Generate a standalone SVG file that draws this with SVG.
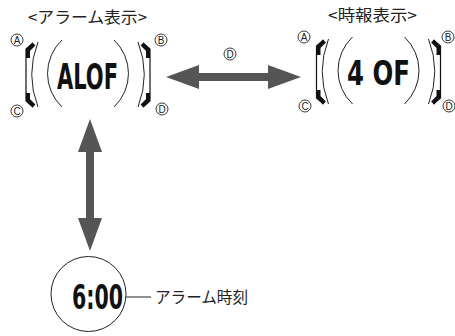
<svg xmlns="http://www.w3.org/2000/svg" width="455" height="336" viewBox="0 0 455 336">
<style>
.jp{font-family:"Noto Sans CJK JP","Noto Sans",sans-serif;fill:#222;}
.lbl{font-family:"Liberation Sans","Noto Sans",sans-serif;font-size:10px;fill:#222;text-anchor:middle;dominant-baseline:central;}
.ring{fill:#fff;stroke:#222;stroke-width:0.9;}
.lcd{font-family:"DejaVu Sans Condensed","Liberation Sans Narrow",sans-serif;font-weight:bold;fill:#111;}
.thin{fill:none;stroke:#111;stroke-width:1.2;}
.thick{fill:none;stroke:#111;stroke-width:4;stroke-linejoin:round;}
.arc{fill:none;stroke:#222;stroke-width:1;}
.arr{fill:#555;}
</style>
<defs>
<circle id="ring" class="ring" r="6"/>
<g id="case">
<path class="thin" d="M-55,-32 L-62,-26 L-62,26 L-55,32"/>
<path class="thick" d="M-54,-31 L-60,-25 L-60,-17"/>
<path class="thick" d="M-60,18 L-60,25 L-54,31"/>
<path class="arc" d="M-50,-33 A90,90 0 0 0 -50,32"/>
<path class="arc" d="M-26,-35 A46,46 0 0 0 -26,32"/>
<g transform="scale(-1,1)">
<path class="thin" d="M-55,-32 L-62,-26 L-62,26 L-55,32"/>
<path class="thick" d="M-54,-31 L-60,-25 L-60,-17"/>
<path class="thick" d="M-60,18 L-60,25 L-54,31"/>
<path class="arc" d="M-50,-33 A90,90 0 0 0 -50,32"/>
<path class="arc" d="M-26,-35 A46,46 0 0 0 -26,32"/>
</g>
</g>
</defs>
<g id="alarm-display">
<text class="jp" x="87.5" y="23" font-size="16" text-anchor="middle" textLength="119" lengthAdjust="spacingAndGlyphs">&lt;アラーム表示&gt;</text>
<use href="#case" transform="translate(88,75)"/>
<text class="lcd" x="57" y="89" font-size="36" textLength="61" lengthAdjust="spacingAndGlyphs">ALOF</text>
<use href="#ring" x="17" y="40"/><text class="lbl" x="17" y="40">A</text>
<use href="#ring" x="161" y="40"/><text class="lbl" x="161" y="40">B</text>
<use href="#ring" x="17" y="111"/><text class="lbl" x="17" y="111">C</text>
<use href="#ring" x="162" y="109"/><text class="lbl" x="162" y="109">D</text>
</g>
<g id="signal-display">
<text class="jp" x="372.5" y="21" font-size="16" text-anchor="middle" textLength="89" lengthAdjust="spacingAndGlyphs">&lt;時報表示&gt;</text>
<use href="#case" transform="translate(378.5,72)"/>
<text class="lcd" x="347" y="85" font-size="34" textLength="63" lengthAdjust="spacingAndGlyphs">4 OF</text>
<use href="#ring" x="304" y="37"/><text class="lbl" x="304" y="37">A</text>
<use href="#ring" x="448" y="37"/><text class="lbl" x="448" y="37">B</text>
<use href="#ring" x="305" y="106"/><text class="lbl" x="305" y="106">C</text>
<use href="#ring" x="449" y="106"/><text class="lbl" x="449" y="106">D</text>
</g>
<g id="alarm-time">
<circle cx="88.5" cy="294" r="37.5" fill="none" stroke="#222" stroke-width="1"/>
<text class="lcd" x="72" y="309" font-size="34" textLength="51" lengthAdjust="spacingAndGlyphs">6:00</text>
<text class="jp" x="155" y="303" font-size="16" textLength="93" lengthAdjust="spacingAndGlyphs">アラーム時刻</text>
</g>
<g id="connectors">
<path class="arr" d="M166,77 L199,65 L199,73 L268,73 L268,65 L301,77 L268,89 L268,81 L199,81 L199,89 Z"/>
<use href="#ring" x="230" y="54"/><text class="lbl" x="230" y="54">D</text>
<path class="arr" d="M90,119 L102,152 L94,152 L94,218 L102,218 L90,251 L78,218 L86,218 L86,152 L78,152 Z"/>
<line x1="126" y1="297" x2="151" y2="297" stroke="#222" stroke-width="1"/>
</g>
</svg>
